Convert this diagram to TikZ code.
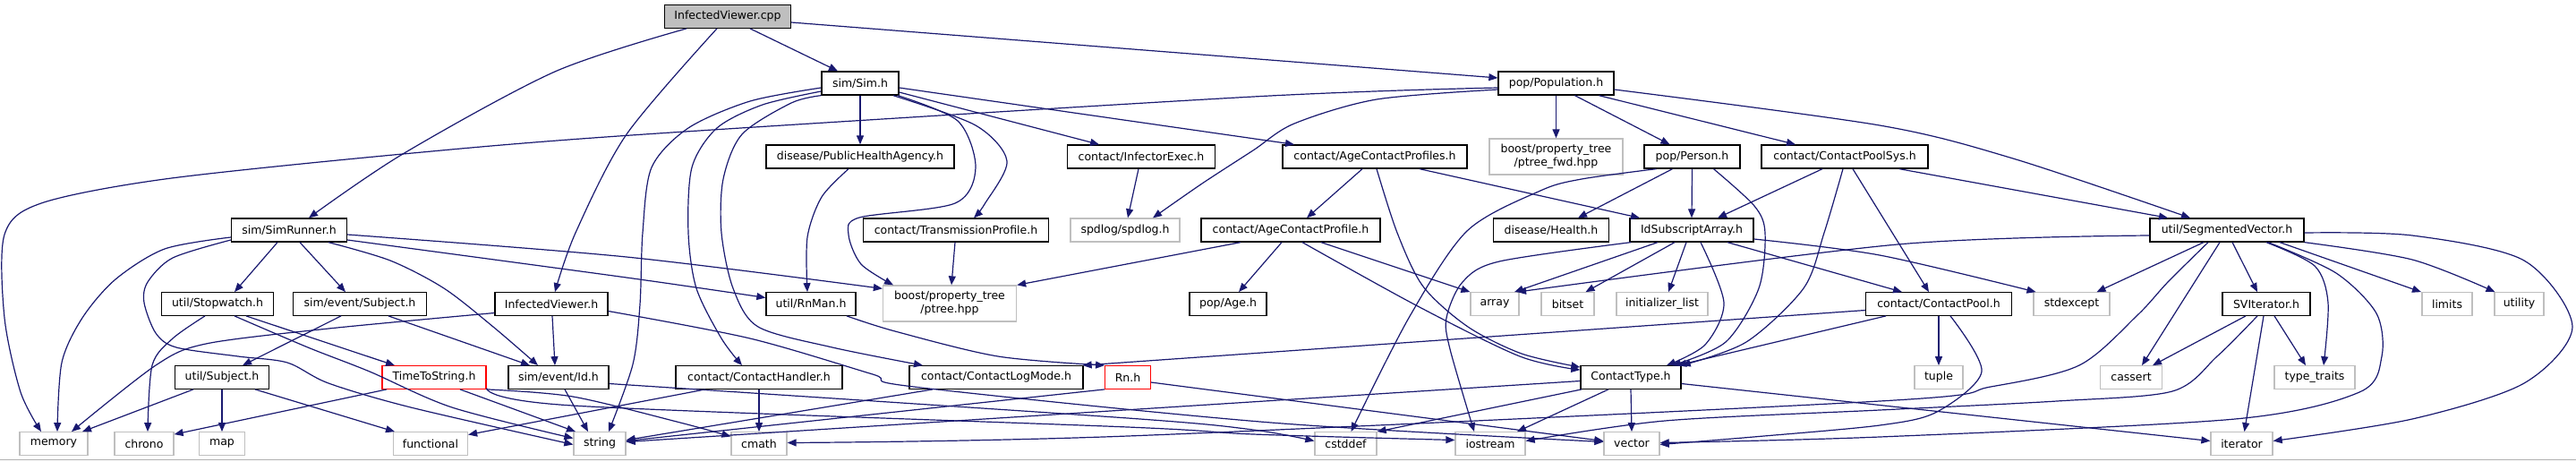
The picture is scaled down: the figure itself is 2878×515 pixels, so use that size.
\documentclass[tikz,border=0pt]{standalone}
\usepackage{fontspec}
\setmainfont{DejaVu Sans}
\usetikzlibrary{arrows.meta}
\definecolor{edgec}{HTML}{191970}
\definecolor{sysc}{HTML}{BFBFBF}
\definecolor{cppfill}{HTML}{BFBFBF}
\definecolor{botline}{HTML}{B0B0B0}
\tikzset{
  nb/.style={draw=black, fill=white, line width=1.3pt, minimum height=25.5pt, inner sep=2pt,
     font=\fontsize{12.5pt}{15pt}\selectfont, align=center},
  sysn/.style={nb, draw=sysc},
  redn/.style={nb, draw=red},
  twol/.style={minimum height=40pt},
  e/.style={draw=edgec, line width=1.2pt, -{Triangle[length=10pt,width=8pt]}},
}
\begin{document}
\begin{tikzpicture}[x=1pt,y=-1pt]
\useasboundingbox (0,0) rectangle (2878,515);
\fill[white] (0,0) rectangle (2878,515);
\draw[botline, line width=1.5pt] (0,513.5) -- (2878,513.5);
% level 0
\node[nb, fill=cppfill, minimum width=141pt] (cpp) at (813,18.5) {InfectedViewer.cpp};
% level 1
\node[nb, minimum width=86pt, minimum height=26pt] (sim) at (961,93) {sim/Sim.h};
\node[nb, minimum width=129pt, minimum height=26pt] (pop) at (1738.5,93) {pop/Population.h};
% level 2
\node[nb, minimum width=210pt, minimum height=26pt] (pha) at (961,175) {disease/PublicHealthAgency.h};
\node[nb, minimum width=165pt, minimum height=26pt] (ie) at (1275,175) {contact/InfectorExec.h};
\node[nb, minimum width=206pt, minimum height=26pt] (acps) at (1536,175) {contact/AgeContactProfiles.h};
\node[sysn, twol, minimum width=149pt] (fwd) at (1738.5,175) {boost/property\_tree\\/ptree\_fwd.hpp};
\node[nb, minimum width=107pt, minimum height=26pt] (person) at (1890.5,175) {pop/Person.h};
\node[nb, minimum width=186pt, minimum height=26pt] (cps) at (2061,175) {contact/ContactPoolSys.h};
% level 3
\node[nb, minimum width=129pt, minimum height=26pt] (simrunner) at (323,257) {sim/SimRunner.h};
\node[nb, minimum width=207pt, minimum height=26pt] (tp) at (1068,257) {contact/TransmissionProfile.h};
\node[sysn, minimum width=122pt, minimum height=26pt] (spdlog) at (1257,257) {spdlog/spdlog.h};
\node[nb, minimum width=200pt, minimum height=26pt] (acp) at (1442,257) {contact/AgeContactProfile.h};
\node[nb, minimum width=129pt, minimum height=26pt] (health) at (1733,257) {disease/Health.h};
\node[nb, minimum width=138pt, minimum height=26pt] (isa) at (1890,257) {IdSubscriptArray.h};
\node[nb, minimum width=172pt, minimum height=26pt] (sv) at (2488,257) {util/SegmentedVector.h};
% level 4
\node[nb, minimum width=124.5pt] (stopwatch) at (243,339.5) {util/Stopwatch.h};
\node[nb, minimum width=149pt] (subject) at (402,339.5) {sim/event/Subject.h};
\node[nb, minimum width=126pt] (ivh) at (616,339.5) {InfectedViewer.h};
\node[nb, minimum width=100pt] (rnman) at (906,339.5) {util/RnMan.h};
\node[sysn, twol, minimum width=149pt] (ptree) at (1061,339) {boost/property\_tree\\/ptree.hpp};
\node[nb, minimum width=86pt] (age) at (1372,339.5) {pop/Age.h};
\node[sysn, minimum width=54pt] (array) at (1670,339.5) {array};
\node[sysn, minimum width=59pt] (bitset) at (1751.5,339.5) {bitset};
\node[sysn, minimum width=102pt] (initl) at (1857,339.5) {initializer\_list};
\node[nb, minimum width=163pt] (cpool) at (2166,339.5) {contact/ContactPool.h};
\node[sysn, minimum width=85pt] (stdexcept) at (2314.5,339.5) {stdexcept};
\node[nb, minimum width=98pt] (svit) at (2532,339.5) {SVIterator.h};
\node[sysn, minimum width=56pt] (limits) at (2734,339.5) {limits};
\node[sysn, minimum width=55pt] (utility) at (2814.5,339.5) {utility};
% level 5
\node[nb, minimum width=105pt] (usubject) at (248,421.5) {util/Subject.h};
\node[redn, minimum width=116pt] (tts) at (485,421.5) {TimeToString.h};
\node[nb, minimum width=112pt] (id) at (624,421.5) {sim/event/Id.h};
\node[nb, minimum width=186pt] (handler) at (848,421.5) {contact/ContactHandler.h};
\node[nb, minimum width=194pt] (logmode) at (1113,421.5) {contact/ContactLogMode.h};
\node[redn, minimum width=50.5pt] (rn) at (1260,421.5) {Rn.h};
\node[nb, minimum width=112pt] (ctype) at (1822,421.5) {ContactType.h};
\node[sysn, minimum width=54pt] (tuple) at (2166,421.5) {tuple};
\node[sysn, minimum width=69pt] (cassert) at (2381,421.5) {cassert};
\node[sysn, minimum width=90pt] (typetraits) at (2586,421.5) {type\_traits};
% level 6
\node[sysn, minimum width=76pt] (memory) at (60,495.5) {memory};
\node[sysn, minimum width=66pt] (chrono) at (161,495.5) {chrono};
\node[sysn, minimum width=51pt] (map) at (248,495.5) {map};
\node[sysn, minimum width=83pt] (functional) at (481,495.5) {functional};
\node[sysn, minimum width=58pt] (string) at (670,495.5) {string};
\node[sysn, minimum width=62pt] (cmath) at (848,495.5) {cmath};
\node[sysn, minimum width=69pt] (cstddef) at (1503.5,495.5) {cstddef};
\node[sysn, minimum width=78pt] (iostream) at (1665,495.5) {iostream};
\node[sysn, minimum width=62pt] (vector) at (1823,495.5) {vector};
\node[sysn, minimum width=69pt] (iterator) at (2504.5,495.5) {iterator};

% ---- edges ----
% InfectedViewer.cpp
\draw[e] ([xshift=25pt]cpp.south) -- ([xshift=-25pt]sim.north);
\draw[e] plot[smooth] coordinates {([xshift=-46pt]cpp.south) (620,80) (450,172) ([xshift=22pt]simrunner.north)};
\draw[e] plot[smooth] coordinates {([xshift=-12pt]cpp.south) (700,150) (643,260) ([xshift=4pt]ivh.north)};
\draw[e] ([yshift=-6.5pt]cpp.east) -- ([yshift=6pt]pop.west);
% sim/Sim.h
\draw[e] (sim.south) -- (pha.north);
\draw[e] ([yshift=-10pt]sim.east) -- ([xshift=-47pt]ie.north);
\draw[e] ([yshift=-5pt]sim.east) -- ([xshift=-90pt]acps.north);
\draw[e] plot[smooth] coordinates {([xshift=37pt]sim.south) (1090,140) (1125,180) (1100,228) ([xshift=20pt]tp.north)};
\draw[e] plot[smooth] coordinates {([xshift=42pt]sim.south) (1070,135) (1090,187) (1067,227) (960,243) (948,262) (962,295) ([xshift=-63pt]ptree.north)};
\draw[e] plot[smooth] coordinates {([yshift=-5pt]sim.west) (838,113) (769,143) (728,187) (718,260) (715,340) (707,407) ([xshift=10pt]string.north)};
\draw[e] plot[smooth] coordinates {([yshift=-9pt]sim.west) (852,117) (801,143) (773,187) (769,260) (778,322) (806,378) ([xshift=-19pt]handler.north)};
\draw[e] plot[smooth] coordinates {(sim.south west) (884,115) (829,150) (808,200) (806,260) (819,322) (847,365) (930,388) ([xshift=-82pt]logmode.north)};
% others upper
\draw[e] plot[smooth] coordinates {([xshift=-13pt]pha.south) (918,220) (902,265) ([xshift=-4pt]rnman.north)};
\draw[e] ([xshift=-3pt]ie.south) -- ([xshift=3pt]spdlog.north);
\draw[e] ([xshift=-1pt]tp.south) -- ([xshift=2pt]ptree.north);
\draw[e] ([xshift=-56pt]acp.south) -- (ptree.north east);
\draw[e] ([xshift=-10pt]acp.south) -- ([xshift=12pt]age.north);
\draw[e] plot[smooth] coordinates {([xshift=40pt]rnman.south) (1000,370) (1115,398) (rn.north west)};
\draw[e] (handler.south) -- (cmath.north);
\draw[e] ([xshift=-60pt]handler.south) -- ([yshift=10pt]functional.east);
\draw[e] ([xshift=-71pt]logmode.south) -- ([yshift=4pt]string.east);
\draw[e] (rn.south west) -- ([yshift=3pt]string.east);
\draw[e] ([yshift=-5.5pt]rn.east) -- ([yshift=3pt]vector.west);
% sim/SimRunner.h
\draw[e] plot[smooth] coordinates {([yshift=-8pt]simrunner.west) (184,278) (129,312) (92,355) (69,405) ([xshift=4pt]memory.north)};
\draw[e] ([xshift=-13pt]simrunner.south) -- ([xshift=19pt]stopwatch.north);
\draw[e] ([xshift=12pt]simrunner.south) -- ([xshift=-16pt]subject.north);
\draw[e] plot[smooth] coordinates {([xshift=44pt]simrunner.south) (436,291) (496,322) (551,365) ([xshift=-23pt]id.north)};
\draw[e] plot[smooth] coordinates {([yshift=-11pt]simrunner.west) (193,288) (165,315) (161,338) (174,372) (197,388) (266,398) (321,405) (367,428) (459,455) ([yshift=-1pt]string.west)};
\draw[e] plot[smooth] coordinates {([yshift=-5pt]simrunner.east) (700,287) ([yshift=-4pt]ptree.north west)};
\draw[e] plot[smooth] coordinates {([yshift=-11pt]simrunner.east) (700,310) ([yshift=7pt]rnman.west)};
% Stopwatch, Subject, viewer
\draw[e] plot[smooth] coordinates {([xshift=-14pt]stopwatch.south) (193,378) (170,408) ([xshift=4pt]chrono.north)};
\draw[e] ([xshift=32pt]stopwatch.south) -- ([xshift=-44pt]tts.north);
\draw[e] plot[smooth] coordinates {([xshift=19pt]stopwatch.south) (344,388) (413,415) (505,455) ([yshift=6pt]string.west)};
\draw[e] ([xshift=-21pt]subject.south) -- ([xshift=23pt]usubject.north);
\draw[e] ([xshift=32pt]subject.south) -- ([xshift=-32pt]id.north);
\draw[e] plot[smooth] coordinates {([yshift=-10pt]ivh.west) (367,367) (230,384) (174,408) ([xshift=20pt]memory.north)};
\draw[e] ([xshift=1pt]ivh.south) -- ([xshift=-4pt]id.north);
\draw[e] plot[smooth] coordinates {([yshift=-8pt]ivh.east) (838,378) (975,418) (1021,432) (1420,472) ([yshift=2pt]vector.west)};
\draw[e] ([xshift=-32pt]usubject.south) -- ([xshift=32pt]memory.north);
\draw[e] (usubject.south) -- (map.north);
\draw[e] ([xshift=37pt]usubject.south) -- ([xshift=-40pt]functional.north);
\draw[e] ([xshift=-53pt]tts.south) -- ([yshift=-3pt]chrono.north east);
\draw[e] ([xshift=29pt]tts.south) -- ([xshift=-27pt]string.north);
\draw[e] plot[smooth] coordinates {(tts.south east) (640,443) (760,472) ([yshift=8pt]cmath.west)};
\draw[e] plot[smooth] coordinates {([yshift=-12pt]tts.east) (640,453) (1260,477) (1400,485) ([yshift=4pt]iostream.west)};
\draw[e] ([xshift=7pt]id.south) -- ([xshift=-13pt]string.north);
\draw[e] plot[smooth] coordinates {([yshift=-7pt]id.east) (1260,467) (1400,480) ([yshift=3pt]cstddef.west)};
% pop/Population.h
\draw[e] plot[smooth] coordinates {([yshift=-5pt]pop.west) (1400,108) (720,150) (450,172) (184,200) (46,227) (5,262) (5,355) (23,438) ([xshift=-14pt]memory.north)};
\draw[e] plot[smooth] coordinates {([yshift=-7pt]pop.west) (1538,111) (1446,138) (1400,168) (1343,205) ([xshift=31pt]spdlog.north)};
\draw[e] (pop.south) -- (fwd.north);
\draw[e] ([xshift=21pt]pop.south) -- ([xshift=-25pt]person.north);
\draw[e] ([xshift=48pt]pop.south) -- ([xshift=-55pt]cps.north);
\draw[e] plot[smooth] coordinates {([yshift=-7pt]pop.east) (2100,140) (2249,177) ([xshift=-41pt]sv.north)};
\draw[e] ([xshift=61pt]cps.south) -- ([xshift=-66pt]sv.north);
% contact profiles
\draw[e] ([xshift=-14pt]acps.south) -- ([xshift=18pt]acp.north);
\draw[e] ([xshift=50pt]acps.south) -- ([xshift=-58pt]isa.north);
\draw[e] plot[smooth] coordinates {([xshift=2pt]acps.south) (1561,260) (1590,320) (1640,365) (1700,395) ([yshift=-2pt]ctype.north west)};
\draw[e] plot[smooth] coordinates {([xshift=13pt]acp.south) (1584,342) (1698,398) ([yshift=-5pt]ctype.north west)};
\draw[e] ([xshift=34pt]acp.south) -- (array.north west);
% pop/Person.h
\draw[e] plot[smooth] coordinates {([xshift=-40pt]person.south) (1767,200) (1721,213) (1639,258) (1574,355) ([xshift=6pt]cstddef.north)};
\draw[e] ([xshift=-22pt]person.south) -- ([xshift=30pt]health.north);
\draw[e] (person.south) -- (isa.north);
\draw[e] plot[smooth] coordinates {([xshift=24pt]person.south) (1960,230) (1972,260) (1965,322) (1928,382) ([xshift=46pt]ctype.north)};
% ContactPoolSys
\draw[e] ([xshift=-25pt]cps.south) -- ([xshift=29pt]isa.north);
\draw[e] plot[smooth] coordinates {([xshift=-2pt]cps.south) (2038,260) (2015,322) (1951,382) (ctype.north east)};
\draw[e] ([xshift=9pt]cps.south) -- ([xshift=-11pt]cpool.north);
% IdSubscriptArray
\draw[e] ([xshift=-38pt]isa.south) -- ([xshift=22pt]array.north);
\draw[e] ([xshift=-19pt]isa.south) -- ([xshift=20pt]bitset.north);
\draw[e] ([xshift=-6pt]isa.south) -- ([xshift=7pt]initl.north);
\draw[e] plot[smooth] coordinates {([xshift=10pt]isa.south) (1926,338) (1905,385) ([xshift=40pt]ctype.north)};
\draw[e] plot[smooth] coordinates {([xshift=-68pt]isa.south) (1675,292) (1634,315) (1616,355) (1620,390) ([xshift=-18pt]iostream.north)};
\draw[e] plot[smooth] coordinates {([yshift=-10pt]isa.east) (2100,285) ([xshift=-40pt]stdexcept.north)};
\draw[e] ([xshift=40pt]isa.south) -- ([xshift=-41pt]cpool.north);
% ContactPool
\draw[e] ([xshift=-59pt]cpool.south) -- ([xshift=52pt]ctype.north);
\draw[e] (cpool.south) -- (tuple.north);
\draw[e] plot[smooth] coordinates {([xshift=13pt]cpool.south) (2214,415) (2164,460) (2100,475) (1959,488) ([yshift=-1pt]vector.east)};
\draw[e] ([yshift=-7pt]cpool.west) -- ([xshift=-1pt]logmode.north east);
% ContactType
\draw[e] ([yshift=-4pt]ctype.west) -- ([yshift=2pt]string.east);
\draw[e] ([xshift=-55pt]ctype.south) -- (cstddef.north east);
\draw[e] ([xshift=-25pt]ctype.south) -- ([xshift=30pt]iostream.north);
\draw[e] (ctype.south) -- (vector.north);
\draw[e] ([yshift=-7pt]ctype.east) -- ([yshift=3pt]iterator.west);
% SegmentedVector
\draw[e] plot[smooth] coordinates {([yshift=-6pt]sv.west) (2120,273) ([xshift=25pt]array.north)};
\draw[e] ([xshift=-26pt]sv.south) -- ([xshift=28pt]stdexcept.north);
\draw[e] ([xshift=-8pt]sv.south) -- ([xshift=12pt]cassert.north);
\draw[e] ([xshift=6pt]sv.south) -- ([xshift=-10pt]svit.north);
\draw[e] plot[smooth] coordinates {([xshift=44pt]sv.south) (2586,297) (2601,338) ([xshift=10pt]typetraits.north)};
\draw[e] ([xshift=59pt]sv.south) -- ([xshift=-29pt]limits.north);
\draw[e] plot[smooth] coordinates {(sv.south east) (2695,290) ([xshift=-27pt]utility.north)};
\draw[e] plot[smooth] coordinates {([yshift=-3pt]sv.east) (2695,263) (2820,291) (2874,365) (2820,428) (2695,468) ([yshift=3pt]iterator.east)};
\draw[e] plot[smooth] coordinates {([xshift=46pt]sv.south) (2610,305) (2655,350) (2661,398) (2636,438) (2497,468) (2100,488) ([yshift=1pt]vector.east)};
\draw[e] plot[smooth] coordinates {([xshift=-21pt]sv.south) (2422,315) (2388,352) (2323,408) (2224,432) (2100,448) (1260,487) ([yshift=1pt]cmath.east)};
% SVIterator
\draw[e] ([xshift=-23pt]svit.south) -- ([xshift=24pt]cassert.north);
\draw[e] ([xshift=9pt]svit.south) -- ([xshift=-10pt]typetraits.north);
\draw[e] ([xshift=-3pt]svit.south) -- ([xshift=3pt]iterator.north);
\draw[e] plot[smooth] coordinates {([xshift=-10pt]svit.south) (2477,398) (2427,437) (2298,448) (2100,458) (1860,470) ([yshift=3pt]iostream.east)};
\end{tikzpicture}
\end{document}
